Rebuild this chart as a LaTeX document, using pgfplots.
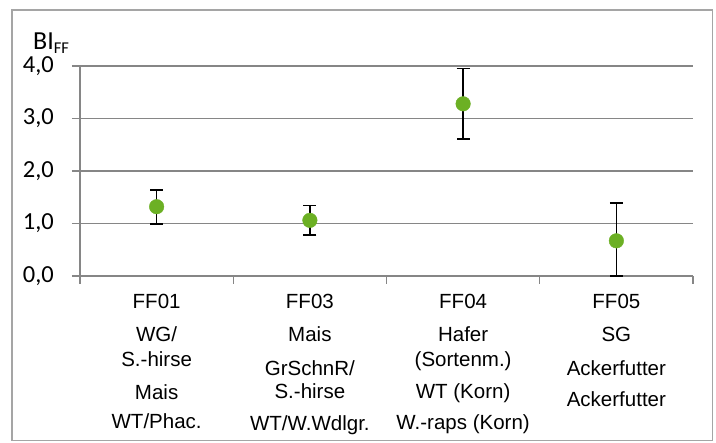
\documentclass[border=0pt]{standalone}
\usepackage{fontspec}
\setmainfont{Liberation Sans}
\newfontfamily\carlito{Carlito}
\usepackage{pgfplots}
\pgfplotsset{compat=1.18}
\definecolor{ptgreen}{RGB}{108,176,36}
\definecolor{gridgray}{RGB}{134,134,134}
\definecolor{framegray}{RGB}{165,165,165}
\begin{document}
\begin{tikzpicture}[x=1pt,y=1pt]
\useasboundingbox (0,0) rectangle (716,-443);
\draw[framegray, line width=1.3pt] (12,-10) rectangle (712.5,-440.5);
\begin{axis}[
  at={(80pt,-276pt)}, anchor=south west,
  scale only axis, width=613pt, height=210pt,
  xmin=0.5, xmax=4.5, ymin=0, ymax=4,
  axis x line*=bottom, axis y line*=left,
  axis line style={gridgray, line width=1.3pt},
  ytick={0,1,2,3,4},
  xtick={0.5,1.5,2.5,3.5,4.5},
  xticklabels={},
  tick align=outside,
  major tick length=8pt,
  tick style={gridgray, line width=1.3pt},
  ymajorgrids,
  grid style={gridgray, line width=1.3pt},
  /pgf/number format/.cd, fixed, fixed zerofill, precision=1, use comma, assume math mode=true,
  /pgfplots/.cd,
  yticklabel style={font=\carlito\fontsize{24.5}{28}\selectfont, inner sep=0pt, anchor=east, xshift=-18pt},
  extra x ticks={1,2,3,4},
  extra x tick labels={
    {FF01\\[8pt]WG/\\S.-hirse\\[8pt]Mais\\[4pt]WT/Phac.},
    {FF03\\[8pt]Mais\\[9pt]GrSchnR/\\[-2pt]S.-hirse\\[7pt]WT/W.Wdlgr.},
    {FF04\\[8pt]Hafer\\(Sortenm.)\\[7pt]WT (Korn)\\[6pt]W.-raps (Korn)},
    {FF05\\[8pt]SG\\[9pt]Ackerfutter\\[6pt]Ackerfutter}},
  extra x tick style={major tick length=0pt, grid=none,
    tick label style={font=\fontsize{20.5}{25}\selectfont, align=center, anchor=north, inner sep=0pt, yshift=-17.5pt}},
  ylabel={BI\raisebox{-3.5pt}[0pt][0pt]{\fontsize{16.5}{16}\selectfont FF}},
  ylabel style={rotate=-90, font=\carlito\fontsize{26}{28}\selectfont, at={(axis description cs:-0.0767,1.078)}, anchor=base west, inner sep=0pt},
  clip=false,
]
\addplot[only marks, mark=*, mark size=7.3pt, mark options={fill=ptgreen, draw=ptgreen},
  error bars/.cd, y dir=both, y explicit,
  error bar style={black, line width=1.6pt},
  error mark options={rotate=90, mark size=6.5pt, black, line width=1.6pt}]
coordinates {
  (1,1.32) += (0,0.32) -= (0,0.33)
  (2,1.06) += (0,0.28) -= (0,0.28)
  (3,3.28) += (0,0.67) -= (0,0.67)
  (4,0.67) += (0,0.72) -= (0,0.67)
};
\end{axis}
\end{tikzpicture}
\end{document}
